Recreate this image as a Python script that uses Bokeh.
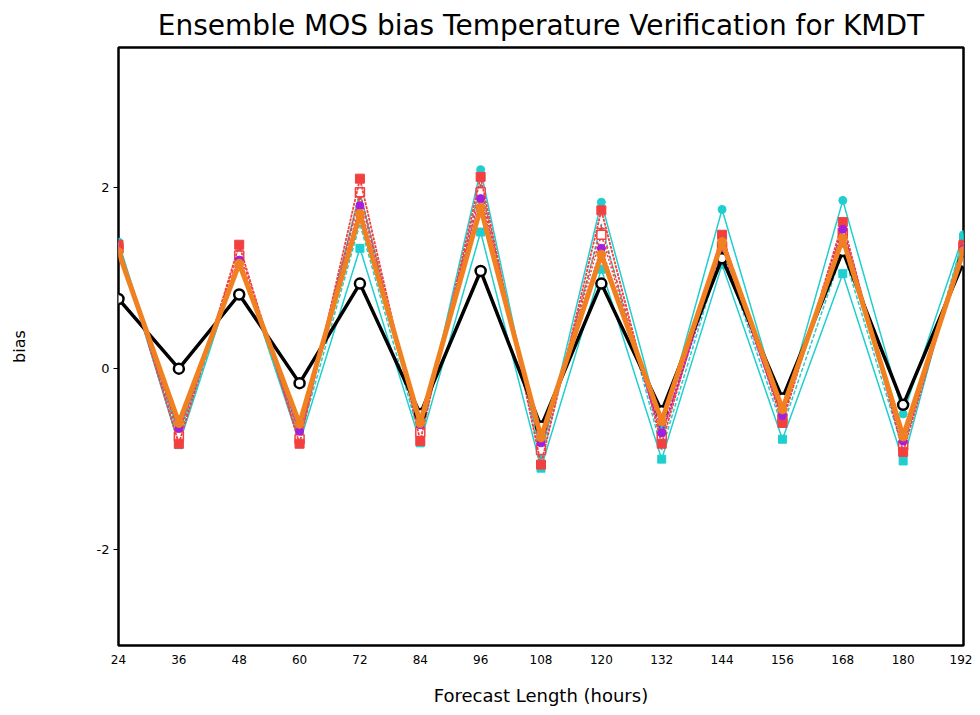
from bokeh.plotting import figure
from bokeh.models import FixedTicker, Range1d, PrintfTickFormatter
from bokeh.embed import file_html
from bokeh.resources import INLINE

hours = [24, 36, 48, 60, 72, 84, 96, 108, 120, 132, 144, 156, 168, 180, 192]
x_ticks = hours
y_ticks = [-2, 0, 2]

gfs_mos = [0.77, 0.0, 0.82, -0.16, 0.94, -0.5, 1.08, -0.64, 0.94, -0.47, 1.22, -0.33, 1.3, -0.4, 1.18]
ens_mean = [1.29, -0.6, 1.16, -0.61, 1.71, -0.6, 1.78, -0.76, 1.26, -0.58, 1.4, -0.45, 1.44, -0.75, 1.3]
purple_m = [1.3, -0.66, 1.2, -0.69, 1.8, -0.62, 1.88, -0.82, 1.33, -0.71, 1.3, -0.52, 1.54, -0.8, 1.32]
red_sq = [1.37, -0.83, 1.37, -0.83, 2.1, -0.8, 2.12, -1.06, 1.75, -0.83, 1.48, -0.6, 1.62, -0.92, 1.37]
red_open = [1.33, -0.75, 1.25, -0.78, 1.95, -0.7, 1.95, -0.9, 1.48, -0.75, 1.35, -0.55, 1.5, -0.85, 1.35]
red_dash = [1.32, -0.7, 1.3, -0.72, 1.9, -0.68, 2.0, -0.88, 1.55, -0.72, 1.38, -0.5, 1.55, -0.82, 1.36]
cyan_sq = [1.35, -0.84, 1.2, -0.82, 1.33, -0.82, 1.51, -1.1, 1.1, -1.0, 1.15, -0.78, 1.05, -1.02, 1.45]
cyan_circ = [1.4, -0.72, 1.22, -0.72, 1.95, -0.75, 2.2, -0.95, 1.84, -0.65, 1.76, -0.5, 1.86, -0.5, 1.48]
cyan_dash = [1.38, -0.78, 1.18, -0.78, 1.6, -0.78, 2.05, -1.0, 1.6, -0.9, 1.3, -0.65, 1.3, -0.9, 1.45]

FONT = "DejaVu Sans"
CYAN = "#1fcfcf"
RED = "#f24040"
PURPLE = "#a020e0"
ORANGE = "#f08020"

p = figure(frame_width=845, frame_height=598, output_backend="svg", toolbar_location=None,
           x_range=Range1d(24, 192), y_range=Range1d(-3.06, 3.55),
           min_border_left=118, min_border_right=9, min_border_top=47, min_border_bottom=60,
           title="Ensemble MOS bias Temperature Verification for KMDT")
p.title.align = "center"
p.title.text_font = FONT
p.title.text_font_size = "28px"
p.title.text_font_style = "normal"
p.title.text_color = "black"
p.title.standoff = 11
p.grid.visible = False
p.outline_line_color = "black"
p.outline_line_width = 2.5
p.outline_line_alpha = 1

p.xaxis.ticker = FixedTicker(ticks=x_ticks)
p.yaxis.ticker = FixedTicker(ticks=y_ticks)
p.yaxis.formatter = PrintfTickFormatter(format="%d")
for ax in (p.xaxis, p.yaxis):
    ax.axis_line_color = None
    ax.minor_tick_line_color = None
    ax.major_label_text_font = FONT
    ax.axis_label_text_font = FONT
    ax.axis_label_text_font_style = "normal"
    ax.axis_label_text_color = "black"
    ax.major_label_text_color = "black"
p.xaxis.major_tick_line_color = None
p.xaxis.major_tick_out = 0
p.xaxis.major_tick_in = 0
p.xaxis.major_label_standoff = 9
p.xaxis.major_label_text_font_size = "12px"
p.xaxis.axis_label = "Forecast Length (hours)"
p.xaxis.axis_label_text_font_size = "18px"
p.xaxis.axis_label_standoff = 18
p.yaxis.major_tick_line_color = "black"
p.yaxis.major_tick_out = 5
p.yaxis.major_tick_in = 0
p.yaxis.major_label_standoff = 4
p.yaxis.major_label_text_font_size = "13px"
p.yaxis.axis_label = "bias"
p.yaxis.axis_label_text_font_size = "16px"
p.yaxis.axis_label_standoff = 65

# cyan members
p.line(hours, cyan_dash, line_color=CYAN, line_width=1.5, line_dash="4 2")
p.line(hours, cyan_sq, line_color=CYAN, line_width=1.5)
p.scatter(hours, cyan_sq, marker="square", size=8, fill_color=CYAN, line_color=CYAN)
p.line(hours, cyan_circ, line_color=CYAN, line_width=1.5)
p.scatter(hours, cyan_circ, marker="circle", size=8, fill_color=CYAN, line_color=CYAN)
# red members
p.line(hours, red_dash, line_color=RED, line_width=1.5, line_dash="3 2")
p.scatter(hours, red_dash, marker="cross", size=7, line_color=RED, line_width=1.5)
p.line(hours, red_open, line_color=RED, line_width=1.5, line_dash="2 2")
p.scatter(hours, red_open, marker="square", size=9, fill_color="white", line_color=RED, line_width=1.5)
p.line(hours, red_sq, line_color=RED, line_width=1.8, line_dash="3 1")
p.scatter(hours, red_sq, marker="square", size=9, fill_color=RED, line_color=RED)
# purple member
p.line(hours, purple_m, line_color=PURPLE, line_width=2, line_dash="2 2")
p.scatter(hours, purple_m, marker="circle", size=8, fill_color=PURPLE, line_color=PURPLE)
# gfs mos (black)
p.line(hours, gfs_mos, line_color="black", line_width=3.5)
p.scatter(hours, gfs_mos, marker="circle", size=10, fill_color="white", line_color="black", line_width=2.5)
# ensemble mean (orange)
p.line(hours, ens_mean, line_color=ORANGE, line_width=5)
p.scatter(hours, ens_mean, marker="circle", size=9, fill_color=ORANGE, line_color=ORANGE)

open("out.html", "w").write(file_html(p, INLINE))
